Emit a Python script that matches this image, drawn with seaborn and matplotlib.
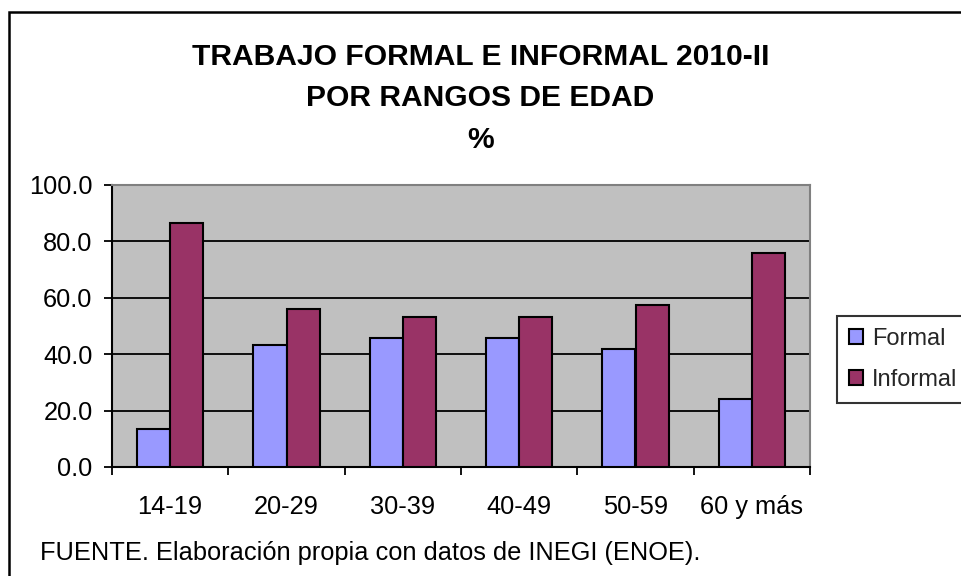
import matplotlib
matplotlib.use("Agg")
import matplotlib.pyplot as plt
import seaborn as sns
import pandas as pd
from matplotlib.patches import Rectangle, Patch
from matplotlib.ticker import FixedLocator, FormatStrFormatter

categories = ["14-19", "20-29", "30-39", "40-49", "50-59", "60 y más"]
formal = [13.4, 43.3, 45.9, 45.9, 41.7, 24.0]
informal = [86.4, 55.9, 53.2, 53.2, 57.4, 75.8]
series_names = ["Formal", "Informal"]
colors = ["#9999FF", "#993366"]
yticks = [0, 20, 40, 60, 80, 100]

df = pd.DataFrame({
    "cat": categories * 2,
    "serie": [series_names[0]] * len(categories) + [series_names[1]] * len(categories),
    "val": formal + informal,
})

sns.set_theme(style="white")
plt.rcParams["font.family"] = ["Liberation Sans", "DejaVu Sans"]

FS = 18.3
LFS = 17

fig = plt.figure(figsize=(9.61, 5.76), dpi=100)
ax = fig.add_axes([112/961, 1-467/576, (810-112)/961, (467-185)/576])
ax.set_facecolor("#C0C0C0")

sns.barplot(data=df, x="cat", y="val", hue="serie", palette=colors,
            saturation=1, width=0.57, gap=0, edgecolor="black", linewidth=1.5,
            ax=ax, legend=False, zorder=3)

ax.set_ylim(0, 100)
ax.set_xlim(-0.5, len(categories) - 0.5)
ax.set_yticks(yticks)
ax.yaxis.set_major_formatter(FormatStrFormatter("%.1f"))
ax.yaxis.grid(True, color="black", linewidth=1.3, zorder=1)
ax.set_axisbelow(True)

ax.xaxis.set_major_locator(FixedLocator([i - 0.5 for i in range(len(categories) + 1)]))
ax.xaxis.set_minor_locator(FixedLocator(list(range(len(categories)))))
ax.set_xticklabels([], minor=False)
ax.set_xticklabels(categories, minor=True)
ax.tick_params(axis="x", which="major", length=6, width=1.3, color="black", direction="out", bottom=True)
ax.tick_params(axis="x", which="minor", length=0, labelsize=FS, pad=20, colors="black")
ax.tick_params(axis="y", length=6, width=1.3, color="black", direction="out", left=True,
               labelsize=FS, pad=8, labelcolor="black")
ax.set_xlabel("")
ax.set_ylabel("")

for s in ["left", "bottom"]:
    ax.spines[s].set_color("black")
    ax.spines[s].set_linewidth(1.5)
for s in ["top", "right"]:
    ax.spines[s].set_color("#808080")
    ax.spines[s].set_linewidth(1.5)

fig.text(0.5, 1-57/576, "TRABAJO FORMAL E INFORMAL 2010-II", ha="center", va="center",
         fontsize=21.6, fontweight="bold", color="black")
fig.text(0.5, 1-98/576, "POR RANGOS DE EDAD", ha="center", va="center",
         fontsize=21.6, fontweight="bold", color="black")
fig.text(0.5, 1-140/576, "%", ha="center", va="center",
         fontsize=21.6, fontweight="bold", color="black")

fig.text(40/961, 1-553/576, "FUENTE. Elaboración propia con datos de INEGI (ENOE).",
         ha="left", va="center", fontsize=FS, color="black")

handles = [Patch(facecolor=c, edgecolor="black", linewidth=1.5) for c in colors]
leg = fig.legend(handles, series_names, loc="upper left",
                 bbox_to_anchor=(837/961, 1-316/576), frameon=True,
                 fontsize=LFS, handlelength=0.62, handleheight=0.62,
                 handletextpad=0.35, borderpad=0.5, labelspacing=0.8,
                 borderaxespad=0, fancybox=False)
leg.get_frame().set_edgecolor("black")
leg.get_frame().set_linewidth(1.5)

border = Rectangle((9/961, -0.2), 2, 1.2 - 12/576, transform=fig.transFigure,
                   fill=False, edgecolor="black", linewidth=1.8, clip_on=False)
fig.patches.append(border)

fig.savefig("out.png", dpi=100)
